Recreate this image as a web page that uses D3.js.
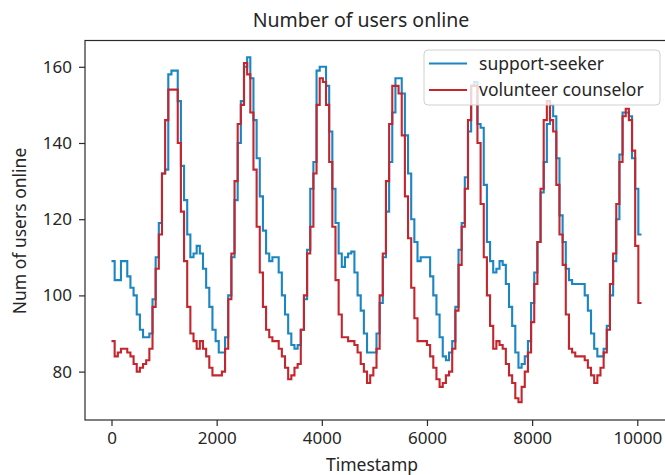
<!DOCTYPE html>
<html>
<head>
<meta charset="utf-8">
<script src="https://cdn.jsdelivr.net/npm/d3@7"></script>
<style>
  html, body { margin: 0; padding: 0; background: #fff; }
  svg { display: block; font-family: "Noto Sans", "Open Sans", sans-serif; }
</style>
</head>
<body>
<svg id="chart" width="665" height="475"></svg>
<script>
// ---- data ----
const seriesNames = ["support-seeker", "volunteer counselor"];
const stepMinutes = 60;
const supportSeeker = [
  109, 104, 104, 109, 109, 105, 102, 100, 95, 91, 89, 89, 90, 99, 110, 119, 132, 133, 158, 159, 159, 151, 134, 125,
  116, 110, 111, 113, 111, 107, 102, 97, 91, 88, 85, 85, 89, 100, 110, 125, 140, 151, 160, 162.5, 157, 146, 136, 126,
  117, 111, 109, 110, 110, 106, 100, 95, 90, 87, 86, 87, 91, 99, 112, 128, 135, 159, 160, 160, 155, 143, 128, 119,
  111, 107.5, 110, 111, 111.5, 106, 100, 96, 90, 85, 85, 85, 90, 98, 110, 122, 135, 148, 157, 157, 153, 142, 132, 120,
  114, 109, 110, 110, 110, 105, 100, 95, 89, 84, 83, 85, 88, 97, 112, 119, 131, 143, 155, 156, 145, 144, 129, 114,
  109, 106, 107, 109, 108, 103, 97, 92, 85, 81, 82, 84, 88, 98, 106, 114, 127, 135, 145, 150, 147, 136, 121, 114,
  107, 104, 103, 103, 103, 103, 100, 96, 90, 86, 84, 84, 86, 92, 100, 109, 120, 137, 148, 148, 147, 136, 128, 116
];
const volunteerCounselor = [
  88, 84, 85, 86, 86, 85, 84, 82, 80, 81, 82, 83, 86, 97, 107, 116, 132, 146, 154, 154, 154, 140, 122, 109,
  97, 90, 88, 86, 88, 86, 84, 81, 79, 79, 79, 80, 86, 99, 111, 130, 145, 150, 161, 158, 148, 133, 118, 106,
  97, 91, 89, 88, 88, 86, 84, 81, 78, 79, 81, 82, 91, 100, 111, 118, 132, 150, 157, 156, 150, 135, 118, 104,
  95, 89, 89, 88, 88, 87, 85, 82, 80, 77, 79, 81, 86, 100, 111, 130, 145, 155, 155, 153, 142, 126, 115, 102,
  94, 88, 88, 88, 87, 84, 81, 78, 76, 77, 79, 80, 86, 96, 108, 118, 128, 146, 155, 155, 140, 124, 110, 100,
  92, 86, 88, 87, 86, 82, 79, 77, 73, 72, 76, 80, 85, 93, 103, 114, 128, 146, 151, 146, 143, 129, 116, 108,
  95, 86, 85, 84, 84, 84, 83, 81, 79, 77, 79, 81, 85, 91, 103, 111, 124, 135, 147, 149, 146, 138, 113, 98
];
const xTicks = [0, 2000, 4000, 6000, 8000, 10000];
const yTicks = [80, 100, 120, 140, 160];
const colors = ["#1a86c2", "#c4262e"];

// ---- layout ----
const svg = d3.select("#chart");
const mLeft = 85, mRight = 668, mTop = 40.5, mBottom = 420;
const x = d3.scaleLinear().domain([-504, 10584]).range([mLeft, mRight]);
const y = d3.scaleLinear().domain([67.3, 166.9]).range([mBottom, mTop]);
const textColor = "#262626";

function toPoints(vals) {
  const pts = vals.map((v, i) => [i * stepMinutes, v]);
  pts.push([vals.length * stepMinutes, vals[vals.length - 1]]);
  return pts;
}
const line = d3.line().x(d => x(d[0])).y(d => y(d[1])).curve(d3.curveStepAfter);

const series = [supportSeeker, volunteerCounselor];
series.forEach((vals, i) => {
  svg.append("path")
    .attr("d", line(toPoints(vals)))
    .attr("fill", "none")
    .attr("stroke", colors[i])
    .attr("stroke-width", 2.1)
    .attr("stroke-linejoin", "miter");
});

// frame
svg.append("rect")
  .attr("x", mLeft).attr("y", mTop)
  .attr("width", mRight - mLeft).attr("height", mBottom - mTop)
  .attr("fill", "none").attr("stroke", "#2a2a2a").attr("stroke-width", 1.2);

// axes
const xAxis = svg.append("g").attr("transform", `translate(0,${mBottom})`)
  .call(d3.axisBottom(x).tickValues(xTicks).tickFormat(d3.format("d")).tickSize(6).tickPadding(6));
const yAxis = svg.append("g").attr("transform", `translate(${mLeft},0)`)
  .call(d3.axisLeft(y).tickValues(yTicks).tickFormat(d3.format("d")).tickSize(6).tickPadding(7));
[xAxis, yAxis].forEach(g => {
  g.select(".domain").remove();
  g.selectAll(".tick line").attr("stroke", "#2a2a2a").attr("stroke-width", 1.2);
  g.selectAll(".tick text").attr("fill", textColor)
    .style("font-family", '"Noto Sans", sans-serif').style("font-size", "17px");
});

// title & labels
svg.append("text").attr("x", 361).attr("y", 27).attr("text-anchor", "middle")
  .attr("fill", textColor).style("font-size", "19.5px").text("Number of users online");
svg.append("text").attr("x", 372).attr("y", 471).attr("text-anchor", "middle")
  .attr("fill", textColor).style("font-size", "17.5px").text("Timestamp");
svg.append("text").attr("transform", "translate(26,231) rotate(-90)").attr("text-anchor", "middle")
  .attr("fill", textColor).style("font-size", "17.5px").text("Num of users online");

// legend
const lg = svg.append("g");
lg.append("rect").attr("x", 424).attr("y", 50).attr("width", 236).attr("height", 55)
  .attr("rx", 4).attr("fill", "#fff").attr("fill-opacity", 0.8)
  .attr("stroke", "#d0d0d0").attr("stroke-width", 1);
seriesNames.forEach((name, i) => {
  const cy = 63.5 + i * 26.5;
  lg.append("line").attr("x1", 429).attr("x2", 467).attr("y1", cy).attr("y2", cy)
    .attr("stroke", colors[i]).attr("stroke-width", 2.1);
  lg.append("text").attr("x", 479).attr("y", cy + 6).attr("fill", textColor)
    .style("font-size", "17.5px").text(name);
});
</script>
</body>
</html>
